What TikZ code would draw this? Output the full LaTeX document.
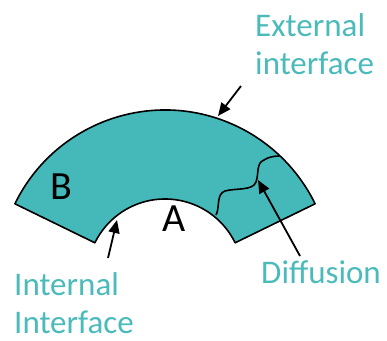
\documentclass[tikz,border=0pt]{standalone}
\usepackage{fontspec}
\setmainfont{Carlito}
\usetikzlibrary{arrows.meta,calc}
\definecolor{tealfill}{HTML}{45B9B9}
\definecolor{tealtext}{HTML}{4BBABA}
\begin{document}
\begin{tikzpicture}[x=1pt,y=1pt,
  lbl/.style={text=tealtext,font=\fontsize{33}{38}\selectfont,inner sep=0pt,align=left},
  big/.style={font=\fontsize{40}{44}\selectfont,inner sep=0pt},
  ptr/.style={line width=1.8pt,-{Triangle[length=13pt,width=11pt]}},
  edge/.style={line width=1.6pt,line join=round}]
\useasboundingbox (0,0) rectangle (387,340);
\coordinate (c) at (165,63);
\fill[tealfill] ($(c)+(154:167)$) arc[start angle=154,end angle=26,radius=167]
  -- ($(c)+(26:78)$) arc[start angle=26,end angle=154,radius=78] -- cycle;
\draw[edge] ($(c)+(154:167)$) arc[start angle=154,end angle=26,radius=167]
  -- ($(c)+(26:78)$) arc[start angle=26,end angle=154,radius=78] -- cycle;
\draw[line width=1.6pt] (216,125) .. controls (220,132) and (216,146) .. (225,149)
  .. controls (235,152) and (253,149) .. (256,158)
  .. controls (259,166) and (256,177) .. (264,180)
  .. controls (268,183) and (275,184) .. (279,184);
\node[big,anchor=base] (B) at (61,141) {B};
\node[big,anchor=base] (A) at (174,109) {A};
\node[lbl,anchor=north west] (ext) at (255,327) {External\\interface};
\node[lbl,anchor=north west] (int) at (14,68) {Internal\\Interface};
\node[lbl,anchor=north west] (dif) at (261,80) {Diffusion};
\coordinate (exttail) at (241,254);
\coordinate (exttip) at (218,224);
\coordinate (inttail) at (108,82);
\coordinate (inttip) at (117,120);
\coordinate (diftail) at (300,84);
\coordinate (diftip) at (258,160);
\draw[ptr] (exttail) -- (exttip);
\draw[ptr] (inttail) -- (inttip);
\draw[ptr] (diftail) -- (diftip);
\end{tikzpicture}
\end{document}
